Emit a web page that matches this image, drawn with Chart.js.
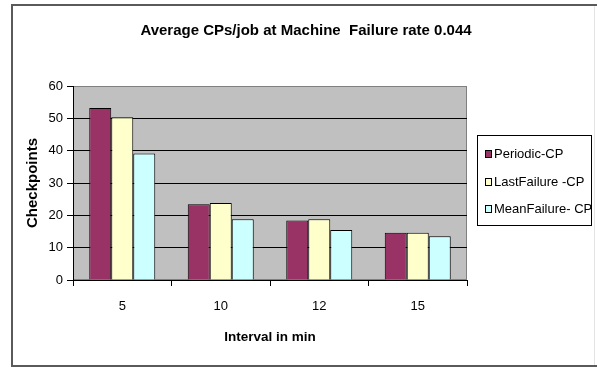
<!DOCTYPE html>
<html>
<head>
<meta charset="utf-8">
<script src="https://cdn.jsdelivr.net/npm/chart.js@4"></script>
<style>
  html, body { margin: 0; padding: 0; background: #ffffff; }
  canvas { display: block; }
</style>
</head>
<body>
<canvas id="chart" width="597" height="368"></canvas>
<script>
// Check-point intervals (minutes) and average checkpoints per job
const intervals = ['5', '10', '12', '15'];
const periodicCP = [53.2, 23.4, 18.4, 14.6];
const lastFailureCP = [50.3, 23.8, 18.8, 14.6];
const meanFailureCP = [39.1, 18.8, 15.5, 13.5];
const seriesNames = ['Periodic-CP', 'LastFailure -CP', 'MeanFailure- CP'];
const yTicks = [0, 10, 20, 30, 40, 50, 60];

const chartTitle = 'Average CPs/job at Machine  Failure rate 0.044';
const FONT = '"Liberation Sans", Arial, sans-serif';

// Grey plot area with a thin grey frame
const plotBackground = {
  id: 'plotBackground',
  beforeDraw(chart) {
    const { ctx, chartArea: a } = chart;
    ctx.save();
    ctx.fillStyle = '#c0c0c0';
    ctx.fillRect(a.left, a.top, a.right - a.left, a.bottom - a.top);
    ctx.strokeStyle = '#808080';
    ctx.lineWidth = 1;
    ctx.strokeRect(a.left + 0.5, a.top + 0.5, a.right - a.left - 1, a.bottom - a.top - 1);
    ctx.restore();
  }
};

// Outer frame, title and boxed legend
const decorations = {
  id: 'decorations',
  afterDraw(chart) {
    const { ctx } = chart;
    ctx.save();

    // outer frame
    ctx.strokeStyle = '#5a5a5a';
    ctx.lineWidth = 2;
    ctx.beginPath();
    ctx.moveTo(597, 5);
    ctx.lineTo(12, 5);
    ctx.lineTo(12, 366);
    ctx.lineTo(597, 366);
    ctx.stroke();
    ctx.strokeStyle = '#e4e4e4';
    ctx.lineWidth = 1;
    ctx.beginPath();
    ctx.moveTo(594.5, 6);
    ctx.lineTo(594.5, 365);
    ctx.stroke();

    // title
    ctx.fillStyle = '#000';
    ctx.font = 'bold 15px ' + FONT;
    ctx.textAlign = 'center';
    ctx.textBaseline = 'middle';
    ctx.fillText(chartTitle, 306, 31);

    // legend
    ctx.strokeStyle = '#000';
    ctx.lineWidth = 1;
    ctx.strokeRect(477.5, 135.5, 114, 90);
    ctx.font = '13px ' + FONT;
    ctx.textAlign = 'left';
    chart.data.datasets.forEach((ds, i) => {
      const y = 154 + i * 27.5;
      ctx.fillStyle = ds.backgroundColor;
      ctx.fillRect(485, Math.round(y) - 4, 7, 8);
      ctx.strokeRect(485.5, Math.round(y) - 3.5, 6, 7);
      ctx.fillStyle = '#000';
      ctx.fillText(ds.label, 494, y + 0.5);
    });
    ctx.restore();
  }
};

new Chart(document.getElementById('chart'), {
  type: 'bar',
  data: {
    labels: intervals,
    datasets: [
      { label: seriesNames[0], data: periodicCP, backgroundColor: '#993366' },
      { label: seriesNames[1], data: lastFailureCP, backgroundColor: '#ffffcc' },
      { label: seriesNames[2], data: meanFailureCP, backgroundColor: '#ccffff' }
    ].map(d => Object.assign(d, {
      borderColor: '#000',
      borderWidth: 1,
      borderSkipped: 'bottom',
      categoryPercentage: 0.67,
      barPercentage: 1.0
    }))
  },
  options: {
    responsive: false,
    animation: false,
    layout: { padding: { top: 86, left: 0, right: 130, bottom: 2 } },
    plugins: {
      legend: { display: false },
      title: { display: false },
      tooltip: { enabled: false }
    },
    scales: {
      x: {
        afterFit(scale) { scale.height = 86; },
        grid: {
          offset: true,
          drawOnChartArea: false,
          color: '#000',
          tickLength: 6
        },
        border: { display: true, color: '#000', width: 1 },
        ticks: {
          color: '#000',
          padding: 13,
          font: { family: FONT, size: 13 }
        },
        title: {
          display: true,
          text: 'Interval in min',
          color: '#000',
          font: { family: FONT, size: 13.5, weight: 'bold' },
          padding: { top: 0, bottom: 21 }
        }
      },
      y: {
        min: yTicks[0],
        max: yTicks[yTicks.length - 1],
        afterFit(scale) { scale.width = 73; },
        afterBuildTicks(scale) { scale.ticks = yTicks.map(v => ({ value: v })); },
        grid: {
          color: c => (c.tick && c.tick.value === 60 ? 'rgba(0,0,0,0)' : '#000'),
          tickColor: '#000',
          tickLength: 6
        },
        border: { display: true, color: '#000', width: 1 },
        ticks: {
          color: '#000',
          padding: 4,
          font: { family: FONT, size: 13 }
        },
        title: {
          display: true,
          text: 'Checkpoints',
          color: '#000',
          font: { family: FONT, size: 15, weight: 'bold' },
          padding: { top: 24, bottom: 0 }
        }
      }
    }
  },
  plugins: [plotBackground, decorations]
});
</script>
</body>
</html>
